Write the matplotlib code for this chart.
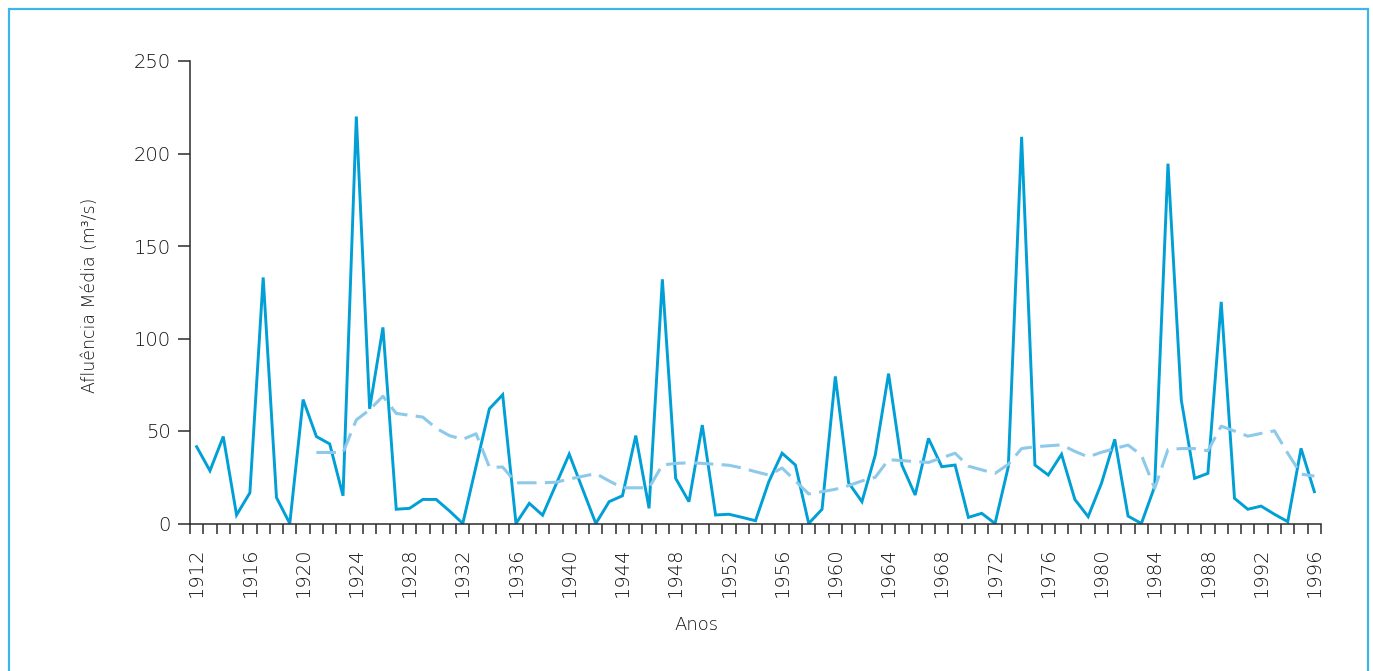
import numpy as np
import matplotlib
matplotlib.use("Agg")
import matplotlib.pyplot as plt
from matplotlib.patches import Rectangle
from matplotlib.ticker import FixedLocator

# Annual mean inflow (m³/s), 1912-1996
years = list(range(1912, 1997))
afluencia = [
    41.5, 28.5, 47.0, 4.6, 16.6, 133.0, 14.0, 0.0, 67.0, 47.0,      # 1912-1921
    43.0, 15.0, 220.0, 62.0, 106.0, 7.7, 8.2, 13.0, 13.0, 6.8,      # 1922-1931
    0.0, 31.0, 62.0, 69.6, 0.0, 10.9, 4.5, 21.0, 37.5, 18.7,        # 1932-1941
    0.0, 11.8, 15.0, 47.5, 8.2, 132.0, 24.4, 11.8, 53.2, 4.6,       # 1942-1951
    5.0, 3.3, 1.5, 22.6, 38.0, 31.6, 0.0, 7.7, 79.5, 22.0,          # 1952-1961
    11.8, 37.0, 81.0, 31.6, 15.4, 46.0, 30.7, 31.6, 3.3, 5.5,       # 1962-1971
    0.0, 30.7, 209.0, 31.6, 26.2, 37.4, 13.0, 3.7, 21.7, 45.5,      # 1972-1981
    4.0, 0.0, 20.0, 194.5, 66.7, 24.4, 27.1, 119.8, 13.6, 7.7,      # 1982-1991
    9.4, 5.0, 1.0, 40.6, 17.2,                                      # 1992-1996
]

# Smoothed series (ten-year window), 1921-1996
media_years = list(range(1921, 1997))
media_movel = [
    38.4, 38.4, 38.4, 56.0, 61.5, 68.8, 59.5, 58.5, 57.5, 51.5,     # 1921-1930
    47.5, 45.5, 48.5, 30.5, 30.5, 22.0, 22.0, 22.0, 22.3, 24.0,     # 1931-1940
    25.5, 27.0, 23.0, 19.3, 19.3, 19.3, 31.6, 32.5, 32.8, 32.5,     # 1941-1950
    32.0, 31.5, 30.0, 28.0, 26.2, 30.0, 23.0, 16.0, 17.2, 18.5,     # 1951-1960
    20.5, 23.0, 25.0, 34.5, 34.0, 33.5, 33.0, 35.5, 38.0, 31.0,     # 1961-1970
    29.0, 27.1, 32.0, 40.5, 41.5, 42.0, 42.5, 39.0, 36.0, 38.5,     # 1971-1980
    40.5, 42.4, 37.0, 19.0, 40.0, 40.5, 40.5, 39.3, 52.6, 50.0,     # 1981-1990
    47.2, 48.7, 50.1, 38.0, 26.7, 25.6,                             # 1991-1996
]

y_ticks = [0, 50, 100, 150, 200, 250]
x_label_years = list(range(1912, 1997, 4))

plt.rcParams["font.family"] = ["DejaVu Sans"]
plt.rcParams["lines.scale_dashes"] = False

W, H = 1373, 671
text_color = "#111111"
fig = plt.figure(figsize=(W / 100, H / 100), dpi=100)
ax = fig.add_axes([190 / W, 1 - 523.5 / H, (1321 - 190) / W, (523.5 - 61) / H])

ax.plot(years, afluencia, color="#009FD6", lw=2.1, solid_joinstyle="miter")
ax.plot(media_years, media_movel, color="#8DC9EA", lw=2.2,
        dashes=(14, 6), dash_capstyle="butt")

ax.set_xlim(years[0] - 0.5, years[-1] + 0.5)
ax.set_ylim(0, 250)

spine_color = "#2b2b2b"
for side in ("top", "right"):
    ax.spines[side].set_visible(False)
for side in ("left", "bottom"):
    ax.spines[side].set_color(spine_color)
    ax.spines[side].set_linewidth(1.1)

ax.set_yticks(y_ticks)
ax.tick_params(axis="y", direction="out", length=9, width=1.1,
               color=spine_color, pad=5, labelsize=14, labelcolor=text_color)

ax.xaxis.set_major_locator(FixedLocator(x_label_years))
ax.xaxis.set_minor_locator(FixedLocator(np.arange(years[0] - 0.5, years[-1] + 1, 1.0)))
ax.set_xticklabels([str(y) for y in x_label_years], rotation=90)
ax.tick_params(axis="x", which="major", length=0, pad=17,
               labelsize=14, labelcolor=text_color)
ax.tick_params(axis="x", which="minor", direction="out", length=7,
               width=1.1, color=spine_color)

for lbl in ax.get_xticklabels() + ax.get_yticklabels():
    lbl.set_fontweight("light")

ax.set_xlabel("Anos", fontsize=13, color=text_color, fontweight="light")
ax.xaxis.set_label_coords((697 - 190) / (1321 - 190), -(625 - 523.5) / (523.5 - 61), transform=ax.transAxes)
ax.xaxis.label.set_va("center")
ax.set_ylabel("Afluência Média (m³/s)", fontsize=12.5, color=text_color, fontweight="light")
ax.yaxis.set_label_coords(-(190 - 90) / (1321 - 190), (523.5 - 295) / (523.5 - 61), transform=ax.transAxes)
ax.yaxis.label.set_va("center")

# Frame around the figure
frame = Rectangle((8.5 / W, -0.05), (1368 - 8.5) / W, 1.05 - 9.5 / H,
                  transform=fig.transFigure, fill=False,
                  edgecolor="#3DB5E6", lw=1.6, clip_on=False)
fig.add_artist(frame)

fig.savefig("out.png", dpi=100)
